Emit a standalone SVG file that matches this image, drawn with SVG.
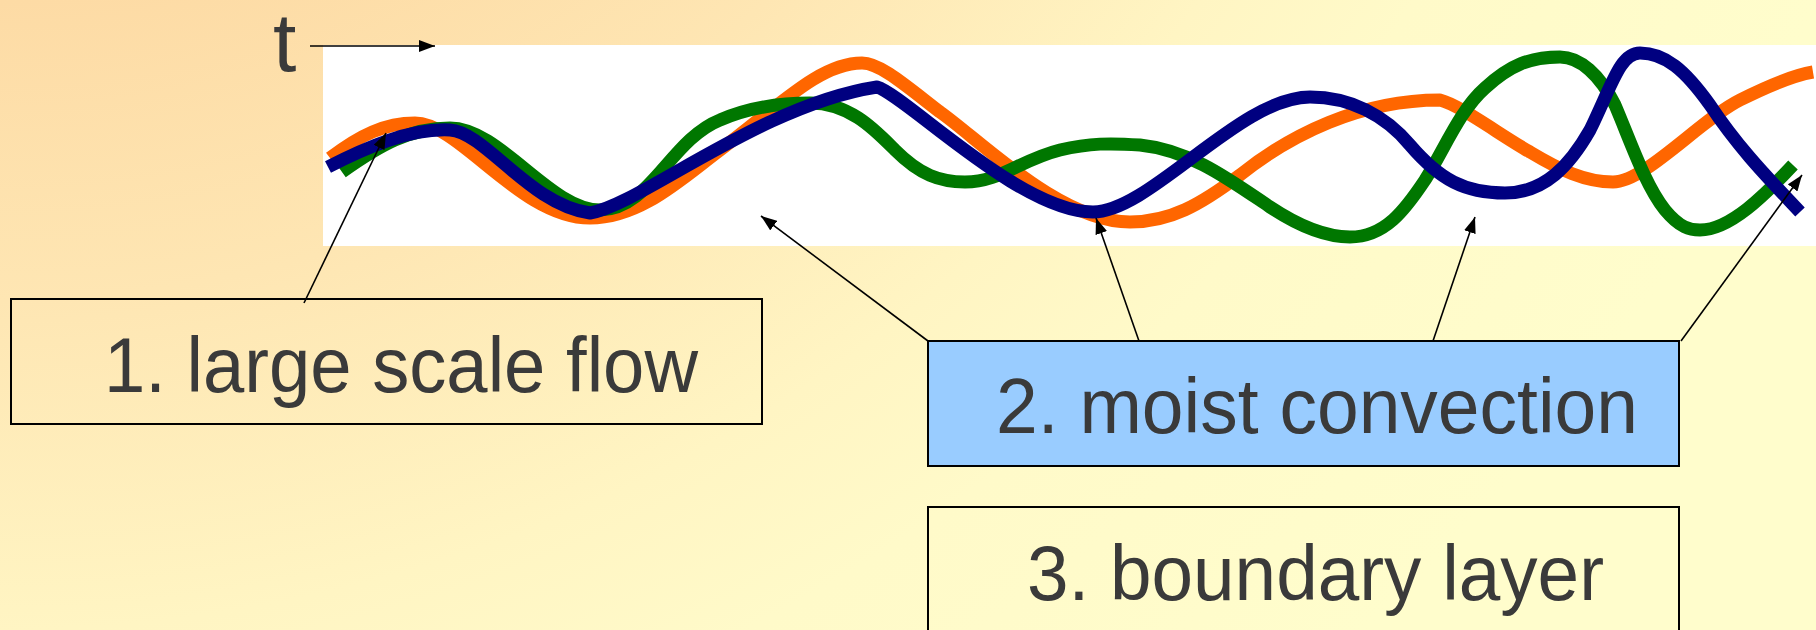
<svg xmlns="http://www.w3.org/2000/svg" width="1816" height="630" viewBox="0 0 1816 630">
<defs>
<radialGradient id="bg" cx="0" cy="-830" r="2000" gradientUnits="userSpaceOnUse">
<stop offset="0.415" stop-color="#fddba5"/>
<stop offset="0.565" stop-color="#fee6b3"/>
<stop offset="0.73" stop-color="#fff5c3"/>
<stop offset="0.82" stop-color="#fffac9"/>
<stop offset="1" stop-color="#fffdcc"/>
</radialGradient>
<marker id="ah" viewBox="0 0 16 12" markerWidth="16" markerHeight="12" refX="16" refY="6" orient="auto" markerUnits="userSpaceOnUse">
<path d="M0,0 L16,6 L0,12 z" fill="#000"/>
</marker>
<style>
.lbl{font-family:"Liberation Sans",Arial,sans-serif;font-size:77px;fill:#3a3a3a}
.big{font-size:84px}
.box{stroke:#000;stroke-width:2}
.conn{stroke:#000;stroke-width:1.6;fill:none;marker-end:url(#ah)}
.wave{fill:none;stroke-width:13;stroke-linecap:butt;stroke-linejoin:round}
</style>
</defs>
<rect x="0" y="0" width="1816" height="630" fill="url(#bg)"/>
<rect id="plot" x="323" y="45" width="1493" height="201" fill="#ffffff"/>
<g id="waves">
<path class="wave" stroke="#ff6600" d="M330,158 C360,135 385,123 415,123 C460,123 520,218 590,218 C640,218 680,180 720,150 C780,105 820,63 862,63 C880,63 905,85 940,112 C980,140 1060,222 1130,222 C1170,222 1200,205 1240,175 C1290,135 1360,100 1440,100 C1460,105 1500,135 1530,152 C1560,170 1585,182 1613,182 C1645,182 1700,120 1740,100 C1770,85 1795,75 1813,72"/>
<path class="wave" stroke="#007700" d="M342,172 C380,145 410,128 450,128 C500,128 550,210 600,210 C650,210 670,140 720,120 C750,107 780,103 810,103 C850,103 875,130 895,150 C920,175 940,182 965,182 C1000,182 1020,160 1060,150 C1090,143 1110,143 1140,145 C1190,150 1230,180 1270,207 C1300,227 1325,237 1350,237 C1385,237 1405,210 1425,180 C1445,148 1460,110 1485,88 C1510,65 1530,57 1560,57 C1580,57 1600,75 1615,105 C1630,140 1645,185 1665,210 C1680,228 1690,230 1700,230 C1730,230 1765,195 1793,165"/>
<path class="wave" stroke="#000080" stroke-width="14" d="M328,167 C365,148 410,128 450,130 C485,132 530,205 590,213 C640,205 760,105 877,87 C905,95 1020,212 1093,212 C1150,212 1240,97 1310,97 C1350,97 1385,115 1410,145 C1440,180 1465,193 1505,193 C1545,193 1570,165 1590,130 C1612,85 1620,53 1640,53 C1665,53 1685,70 1710,105 C1740,150 1770,180 1800,212"/>
</g>
<g id="t-axis">
<text x="273" y="71" class="lbl big">t</text>
<line class="conn" x1="310" y1="46" x2="435" y2="46"/>
</g>
<g id="connectors">
<line class="conn" x1="304" y1="303" x2="386" y2="133"/>
<line class="conn" x1="928" y1="341" x2="761" y2="216"/>
<line class="conn" x1="1139" y1="341" x2="1096" y2="218"/>
<line class="conn" x1="1433" y1="341" x2="1475" y2="217"/>
<line class="conn" x1="1681" y1="341" x2="1802" y2="175"/>
</g>
<g id="node1">
<rect class="box" x="11" y="299" width="751" height="125" fill="none"/>
<text class="lbl" x="104" y="392" textLength="594" lengthAdjust="spacingAndGlyphs">1. large scale flow</text>
</g>
<g id="node2">
<rect class="box" x="928" y="341" width="751" height="125" fill="#99ccff"/>
<text class="lbl" x="996" y="433" textLength="642" lengthAdjust="spacingAndGlyphs">2. moist convection</text>
</g>
<g id="node3">
<rect class="box" x="928" y="507" width="751" height="140" fill="none"/>
<text class="lbl" x="1027" y="600" textLength="577" lengthAdjust="spacingAndGlyphs">3. boundary layer</text>
</g>
</svg>
